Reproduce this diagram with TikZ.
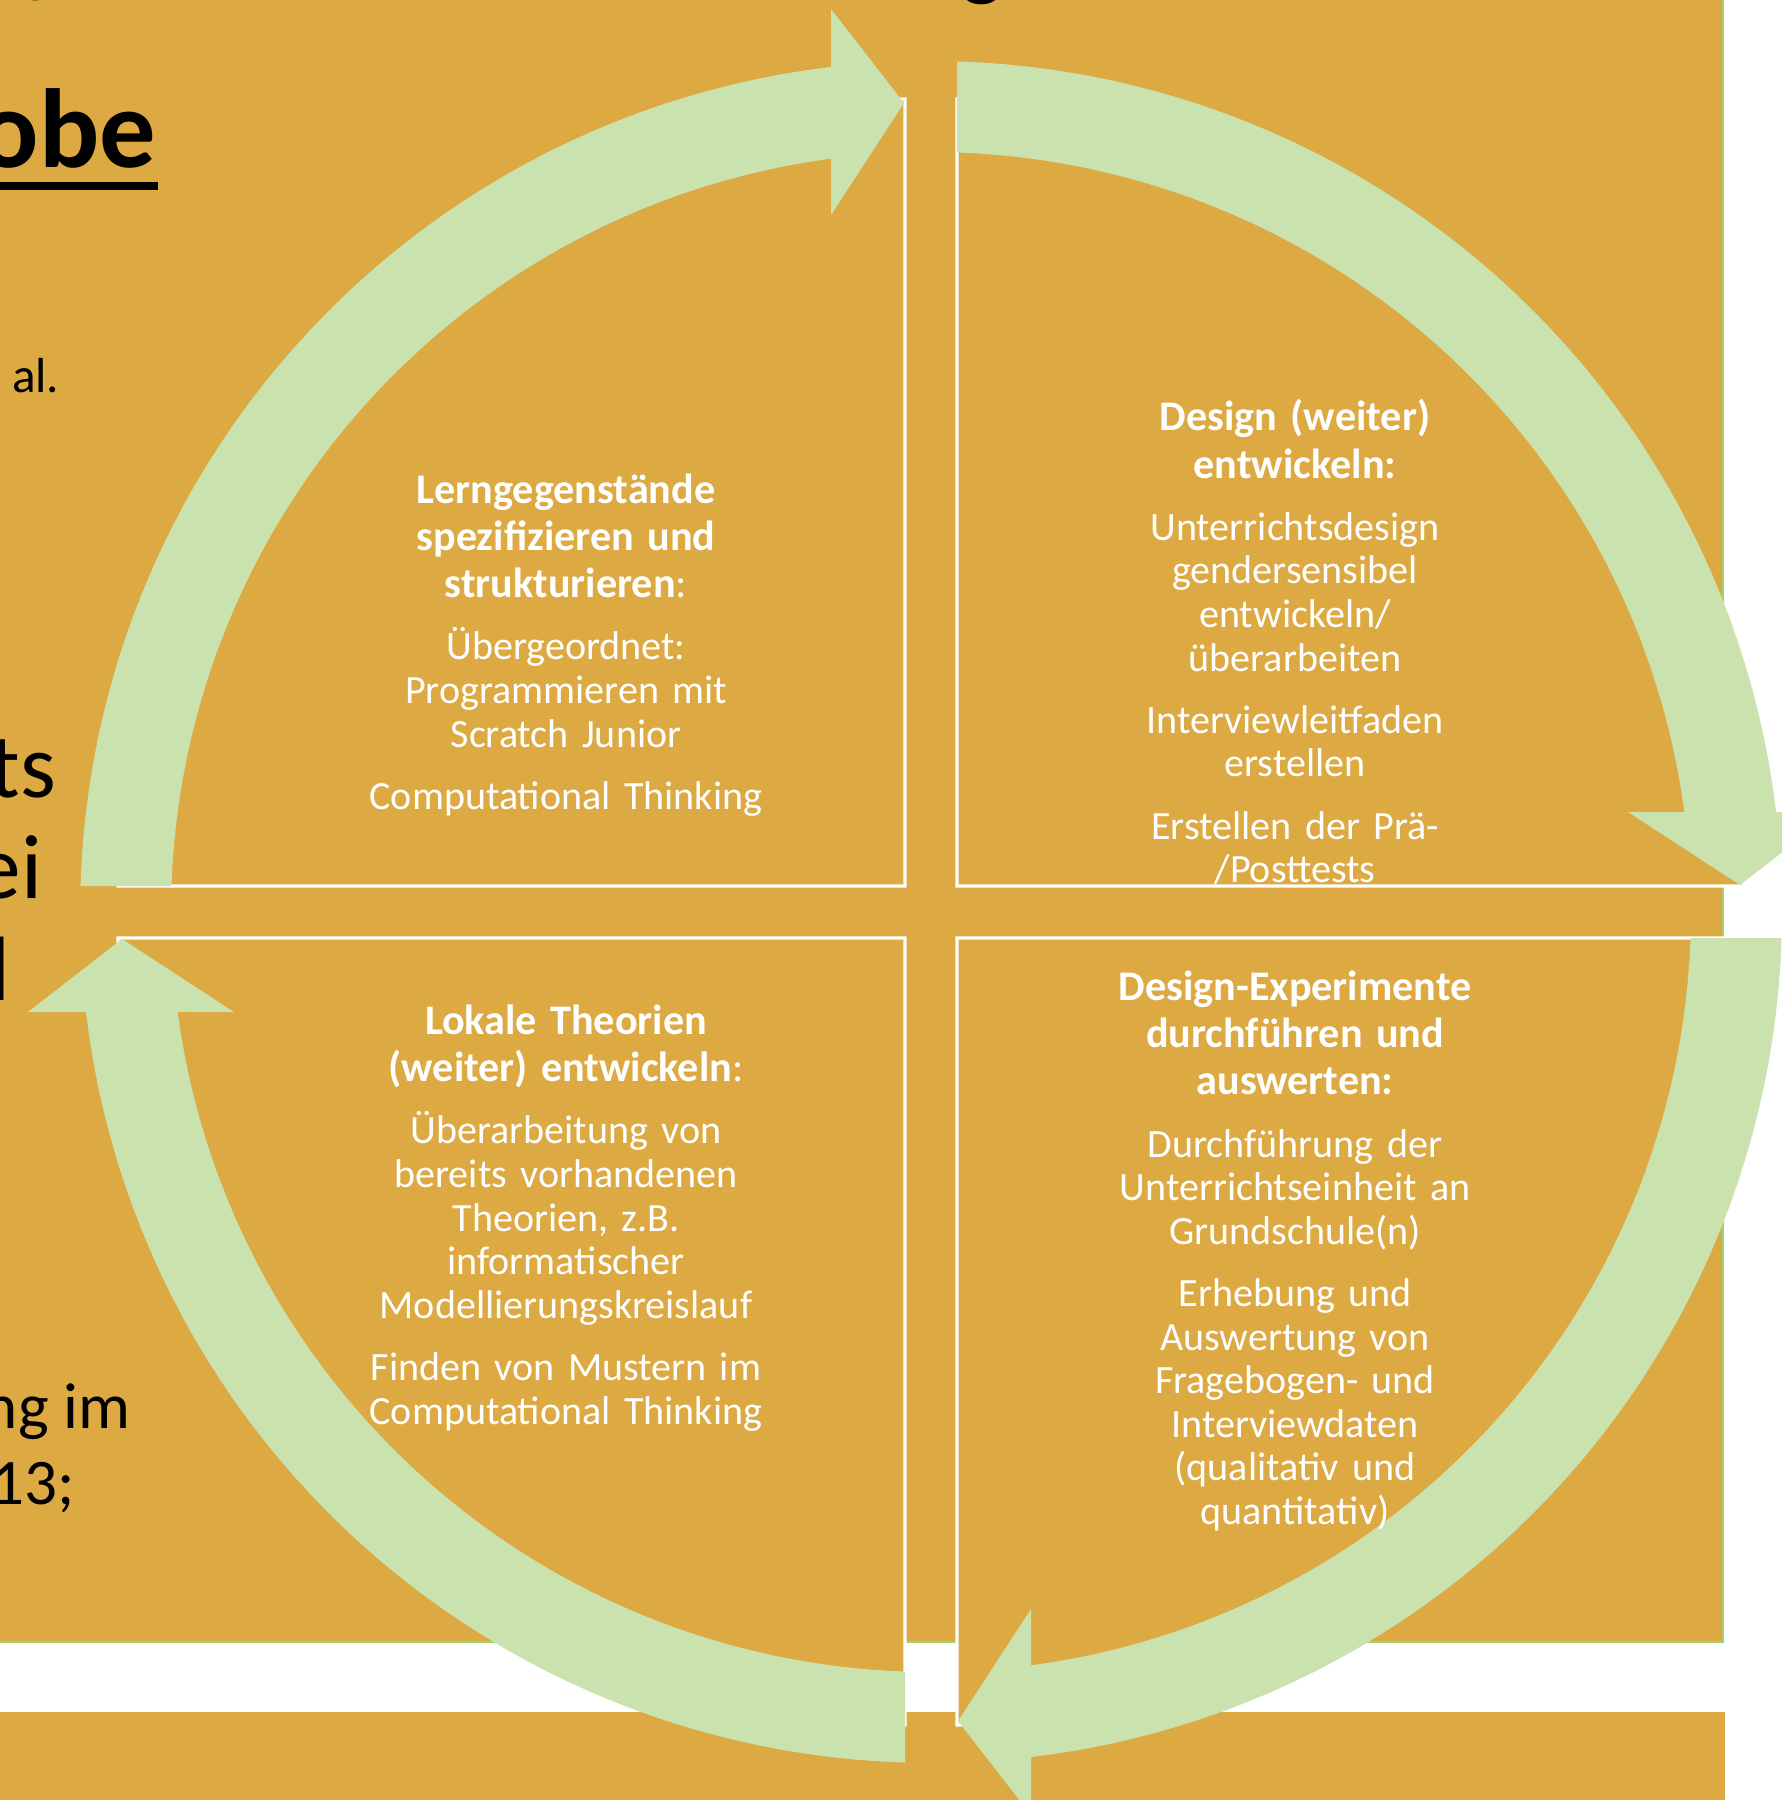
\documentclass[tikz,border=0pt]{standalone}
\usepackage{fontspec}
\setmainfont{Carlito}
\definecolor{slidebg}{RGB}{220,169,66}
\definecolor{cyclegreen}{RGB}{202,226,174}
\definecolor{bgline}{RGB}{160,210,110}
\newcommand\labelfont{\fontsize{11.4}{12.4}\selectfont\parindent=0pt}
\newcommand\headfont{\fontsize{12}{13.4}\selectfont\bfseries}
\newcommand\pgap{\par\vspace{5.3pt}}
\tikzset{
  quadbox/.style={fill=slidebg, draw=white, line width=0.9pt},
  cyclearrow/.style={fill=cyclegreen},
  phase/.style={text=white, font=\labelfont, align=center, text width=4.6cm, inner sep=0pt},
  slidetext/.style={text=black, inner sep=0pt, anchor=base east}
}
\begin{document}
\begin{tikzpicture}[x=0.1mm, y=-0.1mm]
  \useasboundingbox (0,0) rectangle (1781,1800);
  \fill[white] (0,0) rectangle (1781,1800);
  \fill[slidebg] (0,0) rectangle (1723,1642);
  \draw[bgline, line width=0.5pt] (1723,0) -- (1723,1642) -- (0,1642);
  \fill[slidebg] (0,1712) rectangle (1725,1800);

  \node[slidetext, anchor=base, font=\fontsize{24}{29}\selectfont\bfseries] (title1) at (36,-13) {g};
  \node[slidetext, anchor=base, font=\fontsize{24}{29}\selectfont\bfseries] (title2) at (982,-9) {g};
  \node[slidetext, font=\fontsize{32}{38}\selectfont\bfseries] (probe) at (157,168) {obe};
  \fill (0,182) rectangle (158,190);
  \node[slidetext, font=\fontsize{14}{17}\selectfont] (etal) at (60,393) {al.};
  \node[slidetext, font=\fontsize{26}{31}\selectfont] (line1) at (57,797) {ts};
  \node[slidetext, font=\fontsize{26}{31}\selectfont] (line2) at (43,898) {ei};
  \node[slidetext, font=\fontsize{26}{31}\selectfont] (line3) at (11,1000) {l};
  \node[slidetext, font=\fontsize{18.5}{22}\selectfont] (line4) at (131,1428) {ng im};
  \node[slidetext, font=\fontsize{18.5}{22}\selectfont] (line5) at (76,1504) {13;};

  \foreach \turn in {0,-90,-180,-270}
    \filldraw[quadbox, shift={(931,912)}, rotate=\turn]
      (-26,-26) -- (-813,-26)
      -- plot[domain=180:270, samples=60] ({-26+787*cos(\x)},{-26+787*sin(\x)})
      -- cycle;

  \foreach \turn in {0,-90,-180,-270}
    \fill[cyclearrow, shift={(931,912)}, rotate=\turn]
      (-850.6,-26) -- (-759.6,-26)
      -- plot[domain=181.96:262.44, samples=50] (\x:760)
      -- (-100,-697) -- (-27,-809) -- (-100,-903) -- (-100,-845.1)
      -- plot[domain=263.25:181.75, samples=50] (\x:851)
      -- cycle;

  \node[phase] (specify) at (566,645) {{\headfont Lerngegenstände\\ spezifizieren und\\ strukturieren\textmd{:}\par}\pgap Übergeordnet:\\ Programmieren mit\\ Scratch Junior\pgap Computational Thinking};
  \node[phase] (design) at (1295,642) {{\headfont Design (weiter)\\ entwickeln:\par}\pgap Unterrichtsdesign\\ gendersensibel\\ entwickeln/\\ überarbeiten\pgap Interviewleitfaden\\ erstellen\pgap Erstellen der Prä-\\ /Posttests};
  \node[phase] (theory) at (566,1218) {{\headfont Lokale Theorien\\ (weiter) entwickeln\textmd{:}\par}\pgap Überarbeitung von\\ bereits vorhandenen\\ Theorien, z.B.\\ informatischer\\ Modellierungskreislauf\pgap Finden von Mustern im\\ Computational Thinking};
  \node[phase] (experiment) at (1295,1251) {{\headfont Design-Experimente\\ durchführen und\\ auswerten:\par}\pgap Durchführung der\\ Unterrichtseinheit an\\ Grundschule(n)\pgap Erhebung und\\ Auswertung von\\ Fragebogen- und\\ Interviewdaten\\ (qualitativ und\\ quantitativ)};
\end{tikzpicture}
\end{document}
